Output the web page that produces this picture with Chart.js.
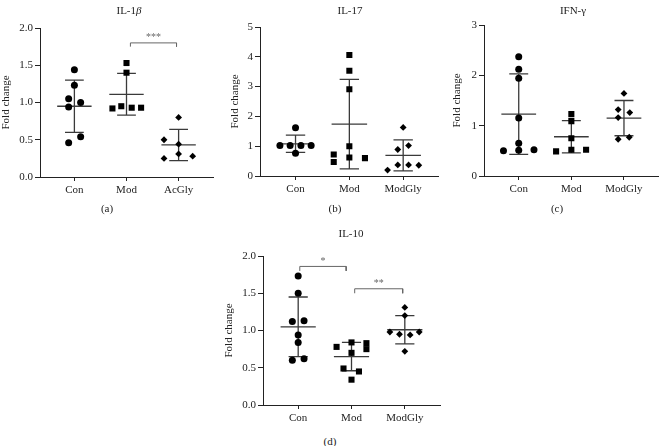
<!DOCTYPE html>
<html>
<head>
<meta charset="utf-8">
<script src="https://cdn.jsdelivr.net/npm/chart.js@4.4.1/dist/chart.umd.min.js"></script>
<style>
  body { margin: 0; background: #fff; }
  #wrap { position: relative; width: 663px; height: 446px; overflow: hidden;
          font-family: 'Liberation Serif', 'DejaVu Serif', serif; color: #222; }
  canvas { position: absolute; }
  .lbl { position: absolute; font-size: 11px; transform: translate(-50%, -50%); white-space: nowrap; }
</style>
</head>
<body>
<div id="wrap">
  <canvas id="chartA" width="221" height="200" style="left:0px;top:0px"></canvas>
  <canvas id="chartB" width="221" height="200" style="left:222px;top:0px"></canvas>
  <canvas id="chartC" width="220" height="200" style="left:443px;top:0px"></canvas>
  <canvas id="chartD" width="240" height="200" style="left:215px;top:230px"></canvas>

  <div class="lbl" style="left:129px;top:10px">IL-1<i>β</i></div>
  <div class="lbl" style="left:350px;top:10px">IL-17</div>
  <div class="lbl" style="left:573px;top:10px">IFN-γ</div>
  <div class="lbl" style="left:351px;top:233px">IL-10</div>

  <div class="lbl" style="left:107px;top:208px">(a)</div>
  <div class="lbl" style="left:335px;top:208px">(b)</div>
  <div class="lbl" style="left:557px;top:208px">(c)</div>
  <div class="lbl" style="left:330px;top:441px">(d)</div>
</div>
<script>
// groupes
const groupsA = ['Con', 'Mod', 'AcGly'];
const groupsBCD = ['Con', 'Mod', 'ModGly'];

// IL-1β (a)
const il1bCon = [1.44, 1.23, 1.05, 0.94, 1.00, 0.54, 0.46];
const il1bConJit = [0, 0, -0.11, -0.11, 0.12, 0.12, -0.11];
const il1bMod = [1.53, 1.40, 0.92, 0.95, 0.93, 0.93];
const il1bModJit = [0, 0, -0.27, -0.10, 0.10, 0.28];
const il1bGly = [0.80, 0.50, 0.44, 0.31, 0.25, 0.28];
const il1bGlyJit = [0, -0.28, 0, 0, -0.28, 0.27];
const il1bMean = [0.95, 1.11, 0.43];
const il1bSd = [0.35, 0.28, 0.21];

// IL-17 (b)
const il17Con = [1.62, 1.02, 1.02, 1.02, 1.02, 0.76];
const il17ConJit = [0, -0.29, -0.10, 0.10, 0.29, 0];
const il17Mod = [4.06, 3.53, 2.91, 1.00, 0.72, 0.47, 0.62, 0.60];
const il17ModJit = [0, 0, 0, 0, -0.29, -0.29, 0, 0.29];
const il17Gly = [1.63, 1.02, 0.89, 0.37, 0.37, 0.36, 0.20];
const il17GlyJit = [0, 0.10, -0.10, -0.10, 0.10, 0.29, -0.29];
const il17Mean = [1.08, 1.74, 0.69];
const il17Sd = [0.29, 1.50, 0.52];

// IFN-γ (c)
const ifnCon = [2.37, 2.12, 1.94, 1.15, 0.65, 0.50, 0.51, 0.52];
const ifnConJit = [0, 0, 0, 0, 0, -0.29, 0, 0.29];
const ifnMod = [1.23, 1.09, 0.75, 0.49, 0.52, 0.52];
const ifnModJit = [0, 0, 0, -0.29, 0, 0.28];
const ifnGly = [1.64, 1.32, 1.16, 1.26, 0.73, 0.77];
const ifnGlyJit = [0, -0.11, -0.11, 0.11, -0.11, 0.10];
const ifnMean = [1.23, 0.78, 1.15];
const ifnSd = [0.80, 0.32, 0.35];

// IL-10 (d)
const il10Con = [1.73, 1.50, 1.12, 1.13, 0.94, 0.84, 0.60, 0.62];
const il10ConJit = [0, 0, -0.11, 0.11, 0, 0, -0.11, 0.11];
const il10Mod = [0.78, 0.84, 0.70, 0.83, 0.75, 0.49, 0.45, 0.34];
const il10ModJit = [-0.28, 0, 0, 0.28, 0.28, -0.15, 0.14, 0];
const il10Gly = [1.31, 1.20, 0.98, 0.95, 0.94, 0.98, 0.72];
const il10GlyJit = [0, 0, -0.28, -0.10, 0.10, 0.27, 0];
const il10Mean = [1.05, 0.65, 1.01];
const il10Sd = [0.40, 0.19, 0.19];

// crochets de significativité
const il1bSig = [{ from: 2.075, to: 2.96, y: 1.80, drop: 0.05, text: '***' }];
const il10Sig = [
  { from: 1.03, to: 1.9, y: 1.86, drop: 0.06, text: '*' },
  { from: 2.06, to: 2.96, y: 1.56, drop: 0.06, text: '**' }
];

const INK = '#222';
const BAR = '#3a3a3a';
const FONT = "'Liberation Serif', 'DejaVu Serif', serif";

function pts(vals, jit, idx) {
  return vals.map((v, i) => ({ x: idx + jit[i], y: v }));
}

// moyenne + écart-type, segments séparés par des trous
function errBars(mean, sd) {
  const d = [];
  mean.forEach((m, i) => {
    const x = i + 1;
    d.push({ x: x - 0.33, y: m }, { x: x + 0.33, y: m }, { x: x, y: null });
    d.push({ x: x, y: m - sd[i] }, { x: x, y: m + sd[i] }, { x: x, y: null });
    d.push({ x: x - 0.18, y: m + sd[i] }, { x: x + 0.18, y: m + sd[i] }, { x: x, y: null });
    d.push({ x: x - 0.18, y: m - sd[i] }, { x: x + 0.18, y: m - sd[i] }, { x: x, y: null });
  });
  return d;
}

function sigLines(sig) {
  const d = [];
  sig.forEach(s => {
    d.push({ x: s.from, y: s.y - s.drop }, { x: s.from, y: s.y }, { x: s.to, y: s.y },
           { x: s.to, y: s.y - s.drop }, { x: s.to, y: null });
  });
  return d;
}

const starPlugin = {
  id: 'stars',
  afterDatasetsDraw(chart, args, opts) {
    const sig = opts.items || [];
    const { ctx, scales } = chart;
    ctx.save();
    ctx.fillStyle = '#666';
    ctx.font = '10px ' + FONT;
    ctx.textAlign = 'center';
    ctx.textBaseline = 'alphabetic';
    sig.forEach(s => {
      const x = scales.x.getPixelForValue((s.from + s.to) / 2);
      const y = scales.y.getPixelForValue(s.y);
      ctx.fillText(s.text, x, y - 2.5);
    });
    ctx.restore();
  }
};

function makePanel(id, cfg) {
  const pointDs = (vals, jit, idx, style, r) => ({
    data: pts(vals, jit, idx),
    pointStyle: style,
    pointRadius: r,
    pointHoverRadius: r,
    backgroundColor: '#000',
    borderColor: '#000',
    borderWidth: 0,
    order: 0
  });
  const datasets = [
    pointDs(cfg.con, cfg.conJit, 1, 'circle', 3.5),
    pointDs(cfg.mod, cfg.modJit, 2, 'rect', 4.3),
    pointDs(cfg.gly, cfg.glyJit, 3, 'rectRot', 3.4),
    {
      data: errBars(cfg.mean, cfg.sd),
      showLine: true, spanGaps: false, pointRadius: 0,
      borderColor: BAR, borderWidth: 1.3, order: 1
    }
  ];
  if (cfg.sig) {
    datasets.push({
      data: sigLines(cfg.sig),
      showLine: true, spanGaps: false, pointRadius: 0,
      borderColor: '#666', borderWidth: 1, order: 2
    });
  }

  new Chart(document.getElementById(id), {
    type: 'scatter',
    data: { datasets: datasets },
    plugins: [starPlugin],
    options: {
      responsive: false,
      animation: false,
      events: [],
      layout: { padding: { left: 0, top: cfg.padTop, right: cfg.padRight, bottom: 0 } },
      plugins: {
        legend: { display: false },
        tooltip: { enabled: false },
        stars: { items: cfg.sig || [] }
      },
      scales: {
        x: {
          type: 'linear', min: 0.34, max: 3.66,
          afterBuildTicks: s => { s.ticks = [1, 2, 3].map(v => ({ value: v })); },
          afterFit: s => { s.height = cfg.xHeight; },
          grid: { display: true, drawOnChartArea: false, tickLength: 4, color: INK },
          border: { display: true, color: INK, width: 1 },
          ticks: {
            color: INK, padding: 3, maxRotation: 0,
            font: { family: FONT, size: 11 },
            callback: v => cfg.groups[v - 1]
          }
        },
        y: {
          min: 0, max: cfg.yMax,
          afterFit: s => { s.width = cfg.yWidth; },
          grid: { display: true, drawOnChartArea: false, tickLength: 5, color: INK },
          border: { display: true, color: INK, width: 1 },
          ticks: {
            color: INK, padding: 2, stepSize: cfg.step,
            font: { family: FONT, size: 11 },
            callback: v => v.toFixed(cfg.dec)
          },
          title: {
            display: true, text: 'Fold change', color: INK,
            font: { family: FONT, size: 11 },
            padding: { top: cfg.titlePad, bottom: 0 }
          }
        }
      }
    }
  });
}

makePanel('chartA', {
  groups: groupsA, con: il1bCon, conJit: il1bConJit, mod: il1bMod, modJit: il1bModJit,
  gly: il1bGly, glyJit: il1bGlyJit, mean: il1bMean, sd: il1bSd, sig: il1bSig,
  yMax: 2, step: 0.5, dec: 1,
  padTop: 28, padRight: 8, yWidth: 40, xHeight: 23, titlePad: 0
});

makePanel('chartB', {
  groups: groupsBCD, con: il17Con, conJit: il17ConJit, mod: il17Mod, modJit: il17ModJit,
  gly: il17Gly, glyJit: il17GlyJit, mean: il17Mean, sd: il17Sd,
  yMax: 5, step: 1, dec: 0,
  padTop: 27, padRight: 4, yWidth: 38, xHeight: 24, titlePad: 7
});

makePanel('chartC', {
  groups: groupsBCD, con: ifnCon, conJit: ifnConJit, mod: ifnMod, modJit: ifnModJit,
  gly: ifnGly, glyJit: ifnGlyJit, mean: ifnMean, sd: ifnSd,
  yMax: 3, step: 1, dec: 0,
  padTop: 25, padRight: 1, yWidth: 41, xHeight: 24, titlePad: 8
});

makePanel('chartD', {
  groups: groupsBCD, con: il10Con, conJit: il10ConJit, mod: il10Mod, modJit: il10ModJit,
  gly: il10Gly, glyJit: il10GlyJit, mean: il10Mean, sd: il10Sd, sig: il10Sig,
  yMax: 2, step: 0.5, dec: 1,
  padTop: 26, padRight: 15, yWidth: 48, xHeight: 25, titlePad: 8
});
</script>
</body>
</html>
